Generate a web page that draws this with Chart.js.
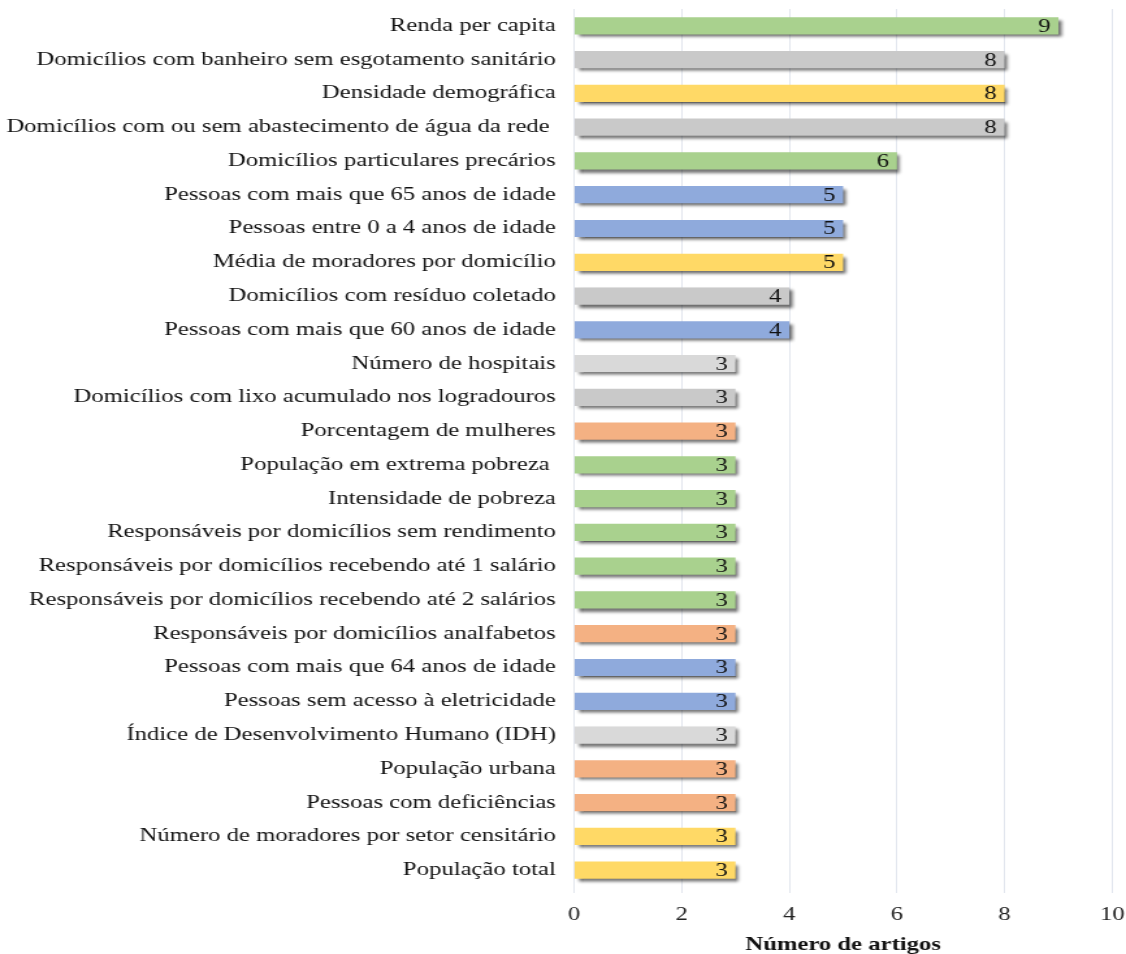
<!DOCTYPE html>
<html>
<head>
<meta charset="utf-8">
<script src="https://cdn.jsdelivr.net/npm/chart.js@4/dist/chart.umd.min.js"></script>
<style>
    html, body { margin: 0; padding: 0; background: #fff; }
</style>
</head>
<body>
<!-- the original figure is stretched sideways, so the canvas is drawn narrow and widened by css -->
<canvas id="chart" width="866" height="954" style="display:block;width:1126px;height:954px"></canvas>
<script>
const labels = [
    "Renda per capita",
    "Domicílios com banheiro sem esgotamento sanitário",
    "Densidade demográfica",
    "Domicílios com ou sem abastecimento de água da rede ",
    "Domicílios particulares precários",
    "Pessoas com mais que 65 anos de idade",
    "Pessoas entre 0 a 4 anos de idade",
    "Média de moradores por domicílio",
    "Domicílios com resíduo coletado",
    "Pessoas com mais que 60 anos de idade",
    "Número de hospitais",
    "Domicílios com lixo acumulado nos logradouros",
    "Porcentagem de mulheres",
    "População em extrema pobreza ",
    "Intensidade de pobreza",
    "Responsáveis por domicílios sem rendimento",
    "Responsáveis por domicílios recebendo até 1 salário",
    "Responsáveis por domicílios recebendo até 2 salários",
    "Responsáveis por domicílios analfabetos",
    "Pessoas com mais que 64 anos de idade",
    "Pessoas sem acesso à eletricidade",
    "Índice de Desenvolvimento Humano (IDH)",
    "População urbana",
    "Pessoas com deficiências",
    "Número de moradores por setor censitário",
    "População total"
];

const articles = [9, 8, 8, 8, 6, 5, 5, 5, 4, 4, 3, 3, 3, 3, 3, 3, 3, 3, 3, 3, 3, 3, 3, 3, 3, 3];

// group of each indicator (decides the bar colour)
const groups = [
    "renda", "saneamento", "demografia", "saneamento", "renda",
    "idade", "idade", "demografia", "saneamento", "idade",
    "infra", "saneamento", "social", "renda", "renda",
    "renda", "renda", "renda", "social", "idade",
    "idade", "infra", "social", "social", "demografia", "demografia"
];

const xTicks = [0, 2, 4, 6, 8, 10];

const groupColors = {
    renda: "#a9d18e",
    saneamento: "#c9c9c9",
    demografia: "#ffd966",
    idade: "#8faadc",
    infra: "#d9d9d9",
    social: "#f4b183"
};

const SERIF = "'Liberation Serif', 'Times New Roman', serif";

// drop shadow under the bars
const shadowPlugin = {
    id: 'barShadow',
    beforeDatasetsDraw(chart) {
        const ctx = chart.ctx;
        ctx.save();
        ctx.shadowColor = "rgba(0,0,0,0.6)";
        ctx.shadowOffsetX = 2.5;
        ctx.shadowOffsetY = 3;
        ctx.shadowBlur = 3;
    },
    afterDatasetsDraw(chart) {
        chart.ctx.restore();
    }
};

// value written at the end of each bar
const valueLabels = {
    id: 'valueLabels',
    afterDatasetsDraw(chart) {
        const ctx = chart.ctx;
        const meta = chart.getDatasetMeta(0);
        ctx.save();
        ctx.font = "19px " + SERIF;
        ctx.fillStyle = "#111";
        ctx.textAlign = "right";
        ctx.textBaseline = "middle";
        meta.data.forEach((bar, i) => {
            ctx.fillText(String(articles[i]), bar.x - 6, bar.y + 1);
        });
        ctx.restore();
    }
};

new Chart(document.getElementById('chart'), {
    type: 'bar',
    data: {
        labels: labels,
        datasets: [{
            data: articles,
            backgroundColor: groups.map(g => groupColors[g]),
            borderWidth: 0,
            categoryPercentage: 1,
            barPercentage: 0.51
        }]
    },
    options: {
        indexAxis: 'y',
        responsive: false,
        maintainAspectRatio: false,
        animation: false,
        layout: { padding: { top: 9, right: 0, left: 0, bottom: 0 } },
        plugins: {
            legend: { display: false },
            tooltip: { enabled: false }
        },
        scales: {
            x: {
                min: 0,
                max: 10,
                afterBuildTicks: axis => { axis.ticks = xTicks.map(v => ({ value: v })); },
                afterFit: axis => {
                    axis.height = 67;
                    axis.paddingLeft = 0;
                    axis.paddingRight = 10.6;
                },
                grid: { color: "#e2e6ee", tickLength: 6, drawTicks: true },
                border: { display: false },
                ticks: {
                    padding: 11,
                    color: "#222",
                    font: { family: SERIF, size: 19 }
                },
                title: {
                    display: true,
                    text: "Número de artigos",
                    color: "#111",
                    padding: { top: 0, bottom: -2 },
                    font: { family: SERIF, size: 19, weight: 'bold' }
                }
            },
            y: {
                afterFit: axis => {
                    axis.width = 441.5;
                    axis.paddingTop = 0;
                    axis.paddingBottom = 0;
                },
                grid: { display: false, drawTicks: false },
                border: { display: false },
                ticks: {
                    padding: 14,
                    color: "#111",
                    autoSkip: false,
                    font: { family: SERIF, size: 19 }
                }
            }
        }
    },
    plugins: [shadowPlugin, valueLabels]
});
</script>
</body>
</html>
